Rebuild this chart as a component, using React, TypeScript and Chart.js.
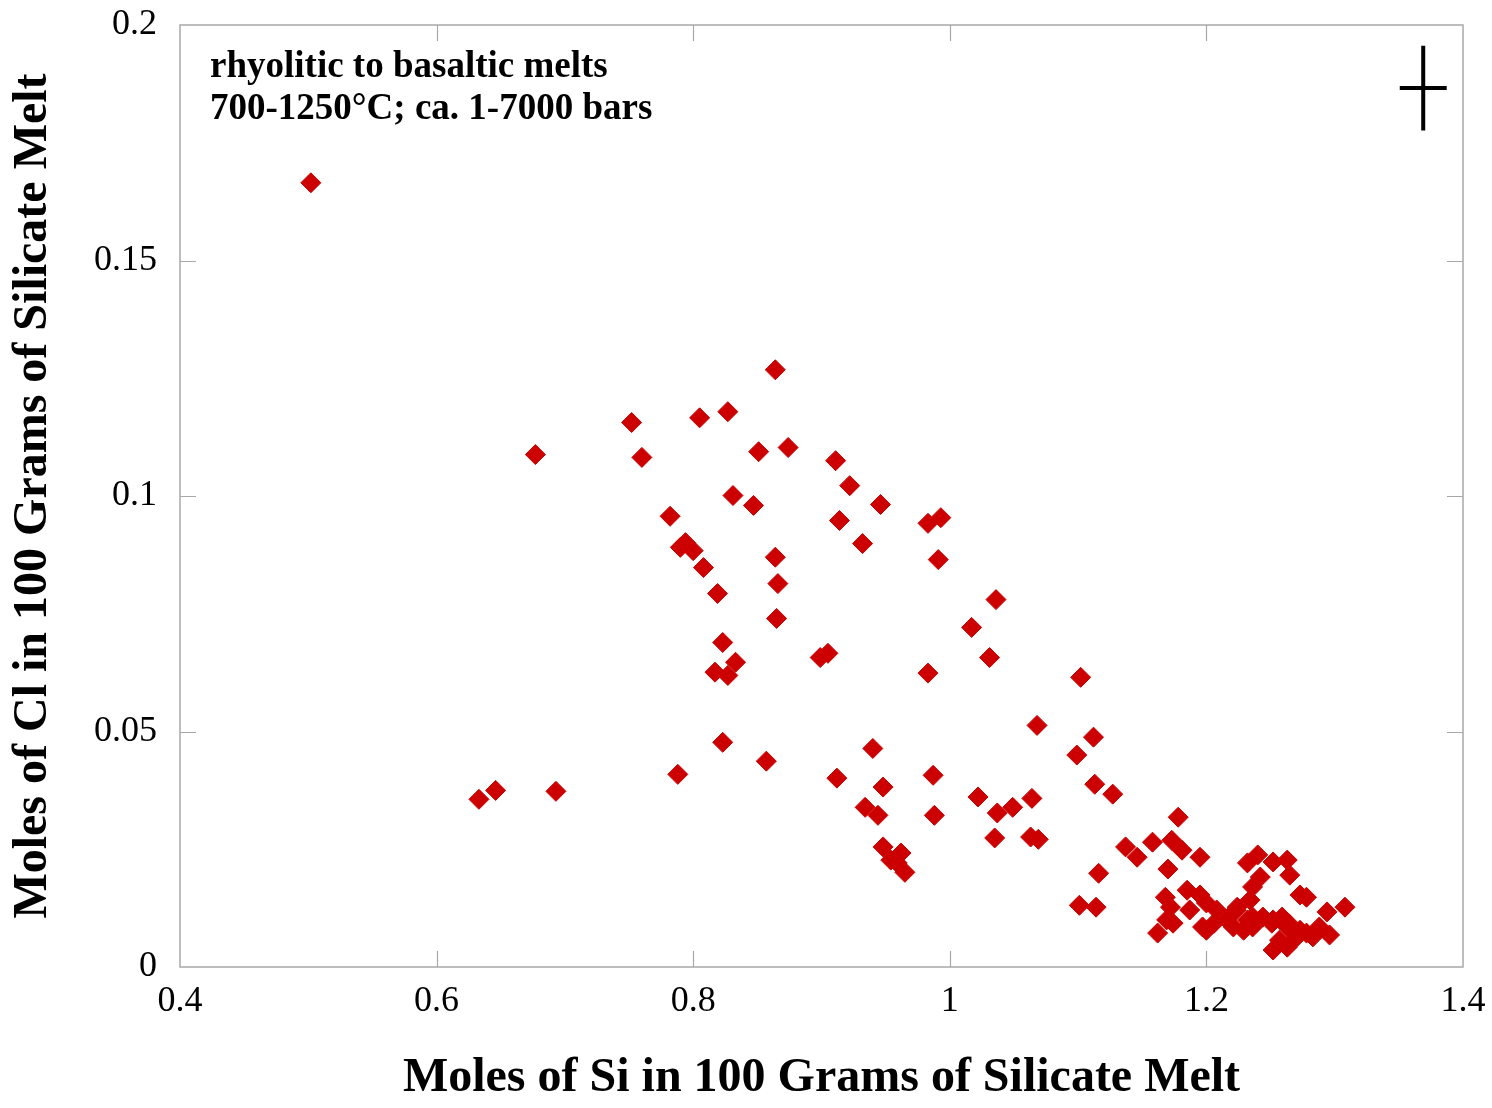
import { useEffect, useRef } from "react";
import { Chart, registerables } from "chart.js";

Chart.register(...registerables);

// Moles of Si per 100 g of silicate melt (x) and matching moles of Cl (y)
const siMoles = [
  0.502, 0.864, 0.752, 0.805, 0.827, 0.760, 0.677, 0.851, 0.874, 0.911,
  0.922, 0.831, 0.847, 0.946, 0.782, 0.914, 0.932, 0.983, 0.993, 0.991,
  0.794, 0.790, 0.800, 0.808, 0.864, 0.866, 0.819, 0.865, 1.036, 1.017,
  0.823, 0.817, 0.827, 0.833, 0.899, 0.905, 1.031, 0.983, 1.102, 1.068,
  1.112, 1.099, 0.823, 0.857, 0.940, 0.788, 0.912, 0.987, 0.948, 0.633,
  0.646, 0.693, 1.113, 1.127, 1.022, 0.934, 0.944, 1.037, 1.049, 1.064,
  0.988, 1.035, 1.063, 1.069, 0.948, 0.954, 0.962, 0.965, 0.959, 1.116,
  1.101, 1.114, 1.137, 1.146, 1.178, 1.158, 1.173, 1.181, 1.195, 1.170,
  1.168, 1.172, 1.169, 1.162, 1.174, 1.185, 1.195, 1.187, 1.200, 1.197,
  1.208, 1.216, 1.224, 1.232, 1.236, 1.232, 1.240, 1.252, 1.263, 1.265,
  1.242, 1.236, 1.234, 1.273, 1.278, 1.294, 1.308, 1.252, 1.263, 1.257,
  1.252, 1.263, 1.273, 1.283, 1.296, 1.288, 1.206, 1.200, 1.221, 1.229,
  1.244, 1.251, 1.259, 1.264, 1.223, 1.236, 1.278, 1.268,
];

const clMoles = [
  0.1665, 0.1268, 0.1156, 0.1166, 0.1179, 0.1082, 0.1088, 0.1094, 0.1103, 0.1075,
  0.1022, 0.1001, 0.0980, 0.0982, 0.0957, 0.0948, 0.0899, 0.0942, 0.0954, 0.0865,
  0.0901, 0.0891, 0.0884, 0.0848, 0.0870, 0.0814, 0.0793, 0.0740, 0.0780, 0.0721,
  0.0689, 0.0626, 0.0619, 0.0647, 0.0657, 0.0666, 0.0657, 0.0624, 0.0615, 0.0513,
  0.0488, 0.0450, 0.0477, 0.0437, 0.0464, 0.0409, 0.0401, 0.0407, 0.0382, 0.0356,
  0.0375, 0.0373, 0.0388, 0.0367, 0.0361, 0.0339, 0.0322, 0.0327, 0.0339, 0.0358,
  0.0322, 0.0274, 0.0276, 0.0271, 0.0255, 0.0227, 0.0242, 0.0201, 0.0221, 0.0199,
  0.0131, 0.0127, 0.0255, 0.0233, 0.0318, 0.0265, 0.0269, 0.0248, 0.0233, 0.0208,
  0.0148, 0.0127, 0.0100, 0.0072, 0.0093, 0.0163, 0.0153, 0.0121, 0.0136, 0.0085,
  0.0121, 0.0100, 0.0127, 0.0100, 0.0085, 0.0221, 0.0238, 0.0223, 0.0227, 0.0195,
  0.0191, 0.0170, 0.0142, 0.0153, 0.0148, 0.0117, 0.0127, 0.0100, 0.0085, 0.0057,
  0.0036, 0.0042, 0.0078, 0.0064, 0.0068, 0.0085, 0.0093, 0.0078, 0.0085, 0.0078,
  0.0106, 0.0093, 0.0106, 0.0093, 0.0121, 0.0106, 0.0072, 0.0057,
];

const xTickValues = [0.4, 0.6, 0.8, 1.0, 1.2, 1.4];
const xTickLabels = ["0.4", "0.6", "0.8", "1", "1.2", "1.4"];
const yTickValues = [0, 0.05, 0.1, 0.15, 0.2];
const yTickLabels = ["0", "0.05", "0.1", "0.15", "0.2"];

const xTitle = "Moles of Si in 100 Grams of Silicate Melt";
const yTitle = "Moles of Cl in 100 Grams of Silicate Melt";
const noteLines = ["rhyolitic to basaltic melts", "700-1250°C; ca. 1-7000 bars"];

// Representative analytical uncertainty, drawn as a cross
const errorCenter = { si: 1.369, cl: 0.1866 };
const errorSi = 0.0183;
const errorCl = 0.009;

const SERIF = '"Liberation Serif", "Times New Roman", serif';
const MARKER = "#CC0000";
const FRAME = "#a8a8a8";

const framePlugin = {
  id: "frameAndNotes",
  afterDraw(chart: any) {
    const { ctx, chartArea: a, scales } = chart;
    const xs = scales.x;
    const ys = scales.y;
    ctx.save();

    // plot frame
    ctx.strokeStyle = FRAME;
    ctx.lineWidth = 1.5;
    ctx.strokeRect(a.left, a.top, a.right - a.left, a.bottom - a.top);

    // inward tick marks on all four sides
    const tickLen = 16;
    ctx.lineWidth = 1.2;
    ctx.beginPath();
    xTickValues.slice(1, -1).forEach((v) => {
      const px = Math.round(xs.getPixelForValue(v)) + 0.5;
      ctx.moveTo(px, a.bottom);
      ctx.lineTo(px, a.bottom - tickLen);
      ctx.moveTo(px, a.top);
      ctx.lineTo(px, a.top + tickLen);
    });
    yTickValues.slice(1, -1).forEach((v) => {
      const py = Math.round(ys.getPixelForValue(v)) + 0.5;
      ctx.moveTo(a.left, py);
      ctx.lineTo(a.left + tickLen, py);
      ctx.moveTo(a.right, py);
      ctx.lineTo(a.right - tickLen, py);
    });
    ctx.stroke();

    // annotation
    ctx.fillStyle = "#000";
    ctx.font = `bold 37px ${SERIF}`;
    ctx.textAlign = "left";
    ctx.textBaseline = "alphabetic";
    ctx.fillText(noteLines[0], a.left + 30, a.top + 52);
    ctx.fillText(noteLines[1], a.left + 30, a.top + 94);

    // error cross
    const cx = xs.getPixelForValue(errorCenter.si);
    const cy = ys.getPixelForValue(errorCenter.cl);
    const x0 = xs.getPixelForValue(errorCenter.si - errorSi);
    const x1 = xs.getPixelForValue(errorCenter.si + errorSi);
    const y0 = ys.getPixelForValue(errorCenter.cl - errorCl);
    const y1 = ys.getPixelForValue(errorCenter.cl + errorCl);
    ctx.strokeStyle = "#000";
    ctx.lineWidth = 4;
    ctx.beginPath();
    ctx.moveTo(x0, cy);
    ctx.lineTo(x1, cy);
    ctx.moveTo(cx, y0);
    ctx.lineTo(cx, y1);
    ctx.stroke();

    ctx.restore();
  },
};

export default function App() {
  const canvasRef = useRef<HTMLCanvasElement | null>(null);

  useEffect(() => {
    const canvas = canvasRef.current;
    if (!canvas) return;
    const points = siMoles.map((x, i) => ({ x, y: clMoles[i] }));

    const chart = new Chart(canvas, {
      type: "scatter",
      data: {
        datasets: [
          {
            data: points,
            pointStyle: "rectRot",
            pointRadius: 10,
            pointBackgroundColor: MARKER,
            pointBorderColor: MARKER,
            pointBorderWidth: 1,
          },
        ],
      },
      options: {
        animation: false,
        responsive: false,
        events: [],
        layout: { padding: { top: 25, right: 29, bottom: 0, left: 0 } },
        plugins: {
          legend: { display: false },
          tooltip: { enabled: false },
        },
        scales: {
          x: {
            type: "linear",
            min: 0.4,
            max: 1.4,
            grid: { display: false, drawTicks: false },
            border: { display: false },
            afterBuildTicks: (scale: any) => {
              scale.ticks = xTickValues.map((value) => ({ value }));
            },
            afterFit: (scale: any) => {
              scale.height = 141;
              scale.paddingLeft = 0;
              scale.paddingRight = 0;
            },
            ticks: {
              color: "#000",
              padding: 13,
              maxRotation: 0,
              autoSkip: false,
              font: { family: SERIF, size: 36 },
              callback: (_v: any, i: number) => xTickLabels[i],
            },
            title: {
              display: true,
              text: xTitle,
              color: "#000",
              font: { family: SERIF, size: 48, weight: "bold", lineHeight: 1 },
              padding: { top: 0, bottom: 5 },
            },
          },
          y: {
            type: "linear",
            min: 0,
            max: 0.2,
            grid: { display: false, drawTicks: false },
            border: { display: false },
            afterBuildTicks: (scale: any) => {
              scale.ticks = yTickValues.map((value) => ({ value }));
            },
            afterFit: (scale: any) => {
              scale.width = 180;
              scale.paddingTop = 0;
              scale.paddingBottom = 0;
            },
            ticks: {
              color: "#000",
              padding: 23,
              autoSkip: false,
              font: { family: SERIF, size: 36 },
              callback: (_v: any, i: number) => yTickLabels[i],
            },
            title: {
              display: true,
              text: yTitle,
              color: "#000",
              font: { family: SERIF, size: 48, weight: "bold", lineHeight: 1 },
              padding: { top: 10, bottom: 0 },
            },
          },
        },
      },
      plugins: [framePlugin],
    });

    return () => chart.destroy();
  }, []);

  return (
    <canvas
      ref={canvasRef}
      width={1492}
      height={1108}
      style={{ position: "absolute", left: 0, top: 0, background: "#fff" }}
    />
  );
}
